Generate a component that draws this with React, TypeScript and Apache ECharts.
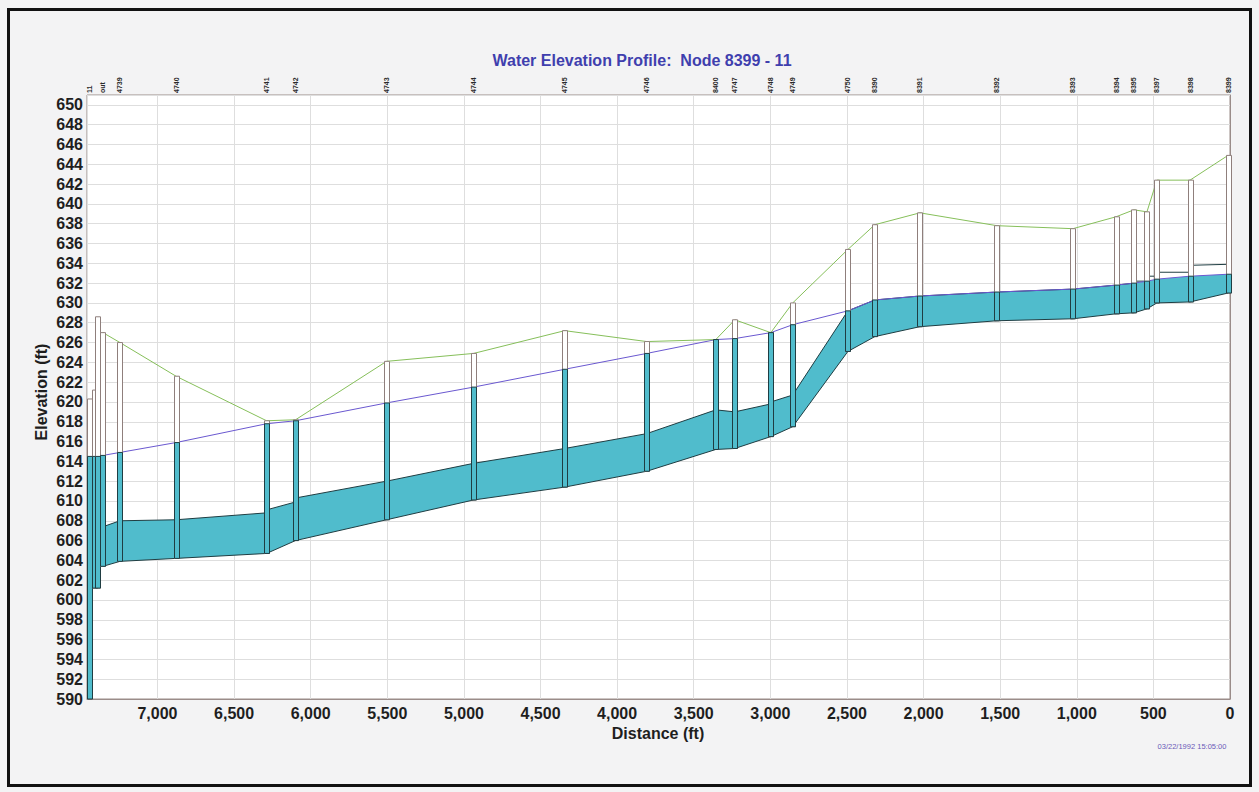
import React, { useEffect, useRef } from "react";
import * as echarts from "echarts";

// ---- Nodes (structures) along the profile ----
const nodeNames = ["11", "", "", "out", "4739", "4740", "4741", "4742", "4743", "4744", "4745", "4746", "8400", "4747", "4748", "4749", "4750", "8390", "8391", "8392", "8393", "8394", "8395", "", "8397", "8398", "8399"];
const nodeDist = [7444, 7411, 7392, 7356, 7245, 6879, 6288, 6099, 5505, 4937, 4342, 3807, 3356, 3232, 2997, 2854, 2494, 2318, 2024, 1521, 1025, 744, 627, 542, 477, 261, 13];
const nodeInvert = [590, 601.2, 601.2, 603.4, 603.9, 604.2, 604.7, 606.0, 608.1, 610.1, 611.4, 613.0, 615.2, 615.3, 616.5, 617.5, 625.1, 626.6, 627.6, 628.2, 628.4, 628.9, 629.0, 629.4, 630.0, 630.1, 631.0];
const nodeRim = [620.3, 621.2, 628.6, 627.0, 626.0, 622.6, 618.1, 618.2, 624.1, 624.9, 627.2, 626.1, 626.3, 628.3, 627.0, 630.0, 635.4, 637.9, 639.1, 637.8, 637.5, 638.7, 639.4, 639.2, 642.4, 642.4, 644.9];
const nodeHead = [614.5, 614.5, 614.5, 614.6, 614.9, 615.9, 617.8, 618.1, 619.9, 621.5, 623.3, 624.9, 626.3, 626.4, 627.0, 627.8, 629.2, 630.3, 630.7, 631.1, 631.4, 631.8, 632.0, 632.2, 632.4, 632.7, 632.9];

// ---- Conduits (link from node i to node i+1) ----
const conduitFrom = [3, 4, 5, 6, 7, 8, 9, 10, 11, 12, 13, 14, 15, 16, 17, 18, 19, 20, 21, 22, 23, 24, 25];
const conduitUpBottom = [603.4, 603.9, 604.2, 604.7, 606.0, 608.1, 610.1, 611.4, 613.0, 615.2, 615.3, 616.5, 617.5, 625.1, 626.6, 627.6, 628.2, 628.4, 628.9, 629.0, 629.4, 630.0, 630.1];
const conduitUpCrown = [607.4, 608.0, 608.1, 609.1, 610.3, 612.0, 613.8, 615.3, 616.8, 619.2, 619.0, 620.0, 620.7, 629.2, 630.3, 630.7, 631.1, 631.4, 631.8, 632.2, 632.7, 633.1, 633.8];
const conduitDnBottom = [603.9, 604.2, 604.7, 606.0, 608.1, 610.1, 611.4, 613.0, 615.2, 615.3, 616.5, 617.5, 625.1, 626.6, 627.6, 628.2, 628.4, 628.9, 629.0, 629.4, 630.0, 630.1, 631.0];
const conduitDnCrown = [608.0, 608.1, 608.8, 609.9, 612.0, 613.8, 615.3, 616.8, 619.2, 619.0, 619.8, 620.7, 629.2, 630.3, 630.7, 631.1, 631.4, 631.8, 632.0, 632.2, 632.7, 633.1, 633.9];

const titleText = "Water Elevation Profile:  Node 8399 - 11";
const xName = "Distance (ft)";
const yName = "Elevation (ft)";
const timestamp = "03/22/1992 15:05:00";

const X_MIN = 0;
const X_MAX = 7460;
const Y_MIN = 590;
const Y_MAX = 651;

const CYAN = "#50bccc";
const DARK = "#1f3d42";
const BAR = "#8f7f7c";
const FONT = "'Liberation Sans', Arial, sans-serif";

export default function App() {
  const ref = useRef<HTMLDivElement>(null);

  useEffect(() => {
    if (!ref.current) return;
    const chart = echarts.init(ref.current, undefined, { renderer: "svg" });

    const nodeData = nodeDist.map((d, i) => [d, nodeInvert[i], nodeRim[i], nodeHead[i]]);
    const conduitData = conduitFrom.map((f, i) => [
      nodeDist[f], conduitUpBottom[i], conduitUpCrown[i], nodeHead[f],
      nodeDist[f + 1], conduitDnBottom[i], conduitDnCrown[i], nodeHead[f + 1],
    ]);
    const hglData = nodeDist.slice(3).map((d, i) => [d, nodeHead[i + 3]]);
    const groundData = nodeDist.slice(3).map((d, i) => [d, nodeRim[i + 3]]);
    const labelData = nodeDist.map((d) => [d, Y_MAX]);

    const axisLabelStyle = { fontFamily: FONT, fontWeight: "bold" as const, fontSize: 16, color: "#1e1e1e" };

    chart.setOption({
      animation: false,
      backgroundColor: "#f3f3f4",
      grid: {
        left: 87, right: 29, top: 95, bottom: 93,
        show: true, backgroundColor: "#ffffff", borderColor: "#9a8c89", borderWidth: 1,
      },
      xAxis: {
        type: "value", inverse: true, min: X_MIN, max: X_MAX, interval: 500,
        axisLine: { show: true, lineStyle: { color: "#9a8c89" } },
        axisTick: { show: false },
        splitLine: { show: true, lineStyle: { color: "#dedede", width: 1 } },
        axisLabel: {
          ...axisLabelStyle, margin: 6,
          formatter: (v: number) => (v % 500 === 0 ? v.toLocaleString("en-US") : ""),
        },
      },
      yAxis: {
        type: "value", min: Y_MIN, max: Y_MAX, interval: 2,
        axisLine: { show: true, lineStyle: { color: "#9a8c89" } },
        axisTick: { show: false },
        splitLine: { show: true, lineStyle: { color: "#dedede", width: 1 } },
        axisLabel: {
          ...axisLabelStyle, margin: 4,
          formatter: (v: number) => (v % 2 === 0 ? String(v) : ""),
        },
      },
      graphic: [
        { type: "rect", z: -10, silent: true, shape: { x: 8.5, y: 9.5, width: 1242, height: 776 }, style: { fill: "none", stroke: "#111", lineWidth: 3 } },
        { type: "text", x: 642, y: 60, style: { text: titleText, fontFamily: FONT, fontWeight: "bold", fontSize: 16, fill: "#3f3fae", align: "center", verticalAlign: "middle" } },
        { type: "text", x: 658, y: 733, style: { text: xName, fontFamily: FONT, fontWeight: "bold", fontSize: 16, fill: "#1e1e1e", align: "center", verticalAlign: "middle" } },
        { type: "text", x: 41, y: 392, rotation: Math.PI / 2, style: { text: yName, fontFamily: FONT, fontWeight: "bold", fontSize: 16, fill: "#1e1e1e", align: "center", verticalAlign: "middle" } },
        { type: "text", x: 1192, y: 746, style: { text: timestamp, fontFamily: FONT, fontSize: 7.5, fill: "#6a5ab8", align: "center", verticalAlign: "middle" } },
      ],
      series: [
        {
          type: "custom", name: "conduits", silent: true, clip: false,
          encode: { x: [0, 4], y: [1, 2, 5, 6] },
          data: conduitData,
          renderItem: (params: any, api: any) => {
            const d1 = api.value(0), b1 = api.value(1), c1 = api.value(2), h1 = api.value(3);
            const d2 = api.value(4), b2 = api.value(5), c2 = api.value(6), h2 = api.value(7);
            const pb1 = api.coord([d1, b1]), pb2 = api.coord([d2, b2]);
            const pw1 = api.coord([d1, Math.min(c1, h1)]), pw2 = api.coord([d2, Math.min(c2, h2)]);
            const pc1 = api.coord([d1, c1]), pc2 = api.coord([d2, c2]);
            return {
              type: "group",
              children: [
                { type: "polygon", shape: { points: [pb1, pb2, pw2, pw1] }, style: { fill: CYAN, stroke: "none" } },
                { type: "polyline", shape: { points: [pb1, pb2] }, style: { stroke: DARK, lineWidth: 1, fill: "none" } },
                { type: "polyline", shape: { points: [pc1, pc2] }, style: { stroke: DARK, lineWidth: 1, fill: "none" } },
              ],
            };
          },
        },
        {
          type: "line", name: "HGL", data: hglData, symbol: "none", silent: true,
          lineStyle: { color: "#6a58d0", width: 1 }, z: 3,
        },
        {
          type: "line", name: "Ground", data: groundData, symbol: "none", silent: true,
          lineStyle: { color: "#86bf5a", width: 1 }, z: 3,
        },
        {
          type: "custom", name: "nodes", silent: true, clip: false, z: 4,
          encode: { x: 0, y: [1, 2] },
          data: nodeData,
          renderItem: (params: any, api: any) => {
            const d = api.value(0), inv = api.value(1), rim = api.value(2), wl = api.value(3);
            const pt = api.coord([d, rim]);
            const pb = api.coord([d, inv]);
            const pw = api.coord([d, Math.min(wl, rim)]);
            const w = 5;
            const x0 = Math.round(pt[0] - w / 2) + 0.5;
            return {
              type: "group",
              children: [
                { type: "rect", shape: { x: x0, y: pt[1], width: w, height: pb[1] - pt[1] }, style: { fill: "#ffffff", stroke: BAR, lineWidth: 1 } },
                { type: "rect", shape: { x: x0, y: pw[1], width: w, height: pb[1] - pw[1] }, style: { fill: CYAN, stroke: DARK, lineWidth: 1 } },
              ],
            };
          },
        },
        {
          type: "custom", name: "labels", silent: true, clip: false, z: 5,
          encode: { x: 0, y: 1 },
          data: labelData,
          renderItem: (params: any, api: any) => {
            const p = api.coord([api.value(0), api.value(1)]);
            return {
              type: "text", x: p[0], y: p[1] - 2, rotation: Math.PI / 2,
              style: { text: nodeNames[params.dataIndex], fontFamily: FONT, fontWeight: "bold", fontSize: 7, fill: "#2a2a2a", align: "left", verticalAlign: "middle" },
            };
          },
        },
      ],
    });

    return () => chart.dispose();
  }, []);

  return (
    <div
      ref={ref}
      style={{ position: "fixed", left: 0, top: 0, width: 1259, height: 792 }}
    />
  );
}
